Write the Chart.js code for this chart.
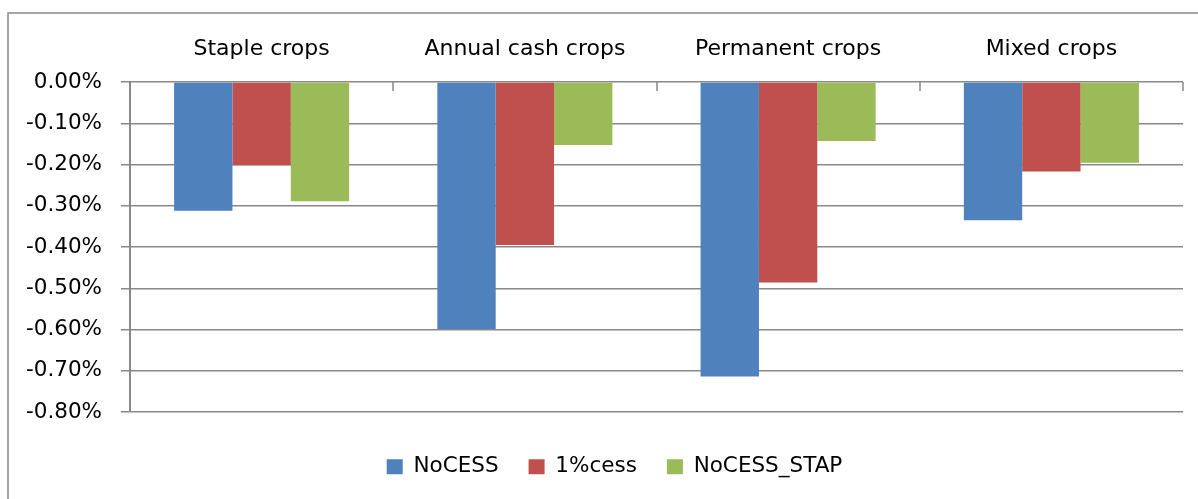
<!DOCTYPE html>
<html>
<head>
<meta charset="utf-8">
<title>Crop types chart</title>
<script src="https://cdn.jsdelivr.net/npm/chart.js@4.4.0/dist/chart.umd.min.js"></script>
<style>
  html, body { margin: 0; padding: 0; background: #fff; overflow: hidden; }
  #wrap { width: 1198px; height: 499px; position: relative; overflow: hidden; }
  #cropChart { display: block; }
</style>
</head>
<body>
<div id="wrap"><canvas id="cropChart" width="1198" height="499"></canvas></div>
<script>
// Chart data
const categories = ['Staple crops', 'Annual cash crops', 'Permanent crops', 'Mixed crops'];
const seriesNames = ['NoCESS', '1%cess', 'NoCESS_STAP'];
const noCess = [-0.312, -0.599, -0.714, -0.335];
const cess1 = [-0.202, -0.395, -0.486, -0.217];
const noCessStap = [-0.289, -0.153, -0.143, -0.196];
const yTicks = [0, -0.1, -0.2, -0.3, -0.4, -0.5, -0.6, -0.7, -0.8];

const colors = ['#4F81BD', '#C0504D', '#9BBB59'];
const GRID = '#898989';
const FONT = '"DejaVu Sans", sans-serif';
const LEGEND_SHIFT = 46; // legend is centred a bit right of the canvas centre

// outer frame of the chart object (only left and top edges are in view)
const framePlugin = {
    id: 'frame',
    beforeDraw(chart) {
        const ctx = chart.ctx;
        ctx.save();
        ctx.fillStyle = '#fff';
        ctx.fillRect(0, 0, chart.width, chart.height);
        ctx.strokeStyle = GRID;
        ctx.lineWidth = 1.5;
        ctx.beginPath();
        ctx.moveTo(8, chart.height + 10);
        ctx.lineTo(8, 13);
        ctx.lineTo(chart.width + 10, 13);
        ctx.stroke();
        ctx.restore();
    }
};

// move the legend box so it is centred like the original
const legendShiftPlugin = {
    id: 'legendShift',
    afterLayout(chart) {
        if (chart.legend) chart.legend.left += LEGEND_SHIFT;
    }
};

// short tick marks at category boundaries, pointing down from the zero line
const catTicksPlugin = {
    id: 'catTicks',
    afterDraw(chart) {
        const x = chart.scales.x;
        const y = chart.scales.y;
        const ctx = chart.ctx;
        const y0 = y.getPixelForValue(0);
        const step = x.width / categories.length;
        ctx.save();
        ctx.strokeStyle = GRID;
        ctx.lineWidth = 1.5;
        for (let i = 0; i <= categories.length; i++) {
            const px = Math.round(x.left + i * step);
            ctx.beginPath();
            ctx.moveTo(px, y0);
            ctx.lineTo(px, y0 + 9);
            ctx.stroke();
        }
        ctx.restore();
    }
};

const ctx = document.getElementById('cropChart');

new Chart(ctx, {
    type: 'bar',
    data: {
        labels: categories,
        datasets: [noCess, cess1, noCessStap].map((vals, i) => ({
            label: seriesNames[i],
            data: vals,
            backgroundColor: colors[i],
            borderWidth: 0,
            categoryPercentage: 0.665,
            barPercentage: 1.0
        }))
    },
    options: {
        responsive: false,
        animation: false,
        layout: {
            padding: { left: 0, right: 15, top: 0, bottom: 11.5 }
        },
        plugins: {
            legend: {
                position: 'bottom',
                labels: {
                    boxWidth: 16,
                    boxHeight: 15,
                    padding: 30,
                    color: '#000',
                    font: { family: FONT, size: 21.5 }
                }
            },
            tooltip: { enabled: false }
        },
        scales: {
            x: {
                position: 'top',
                afterFit: scale => { scale.height = 82; },
                grid: { display: false, drawTicks: false },
                border: { display: false },
                ticks: {
                    padding: 20,
                    color: '#000',
                    maxRotation: 0,
                    font: { family: FONT, size: 22 }
                }
            },
            // empty axis that only keeps the legend away from the plot
            xGap: {
                type: 'category',
                position: 'bottom',
                afterFit: scale => { scale.height = 14; },
                grid: { display: false, drawTicks: false },
                border: { display: false },
                ticks: { display: false }
            },
            y: {
                min: -0.8,
                max: 0,
                afterFit: scale => { scale.width = 130; },
                afterBuildTicks: scale => {
                    scale.ticks = yTicks.map(v => ({ value: v }));
                },
                grid: {
                    color: GRID,
                    lineWidth: 1.5,
                    tickLength: 9,
                    tickColor: GRID
                },
                border: { color: GRID, width: 2 },
                ticks: {
                    padding: 19,
                    color: '#000',
                    font: { family: FONT, size: 21.5 },
                    callback: value => value.toFixed(2) + '%'
                }
            }
        }
    },
    plugins: [framePlugin, legendShiftPlugin, catTicksPlugin]
});
</script>
</body>
</html>
